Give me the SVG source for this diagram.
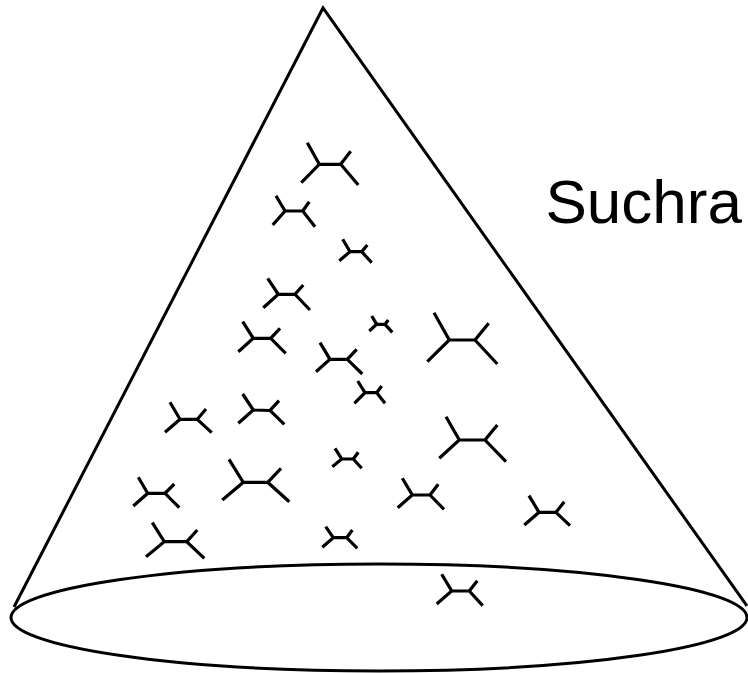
<svg xmlns="http://www.w3.org/2000/svg" width="748" height="673" viewBox="0 0 748 673">
<style>
.o{fill:none;stroke:#000;stroke-width:3}
.t{fill:none;stroke:#000;stroke-width:3.2;stroke-linejoin:miter}
.lbl{font-family:"Liberation Sans",Arial,sans-serif;font-size:62px;fill:#000}
</style>
<rect width="748" height="673" fill="#fff"/>
<g id="cone">
<path class="o" d="M14,607 L323,8 L747,606"/>
<ellipse class="o" cx="379" cy="617.5" rx="368" ry="53.5"/>
</g>
<g id="trees">
<g id="t1"><path class="t" d="M307.3,142.7 L319.3,164.3 L301.3,182.7 M319.3,164.3 L340.7,164.3 M350.7,151.3 L340.7,164.3 L358.3,185"/></g>
<g id="t2"><path class="t" d="M276,195.7 L285,211 L272.7,225 M285,211 L302.7,211 M309.3,201.7 L302.7,211 L315,226.7"/></g>
<g id="t3"><path class="t" d="M342.7,239.3 L350,251.7 L339.3,260.7 M350,251.7 L361.7,251.7 M367.3,245 L361.7,251.7 L371.7,262.7"/></g>
<g id="t4"><path class="t" d="M267.7,278.3 L278.3,294.3 L263.3,307.7 M278.3,294.3 L295,294.3 M303.3,285 L295,294.3 L310,310"/></g>
<g id="t5"><path class="t" d="M371.7,316 L376.7,324.3 L369.3,331 M376.7,324.3 L385,324.3 M388.3,320 L385,324.3 L392.3,332.3"/></g>
<g id="t6"><path class="t" d="M242.7,321.7 L253.3,338.3 L238.3,351.7 M253.3,338.3 L270.7,338.3 M280,328.3 L270.7,338.3 L285.7,353.3"/></g>
<g id="t7"><path class="t" d="M320,342.7 L330,359.3 L316,371.7 M330,359.3 L347.3,359.3 M356.7,349.3 L347.3,359.3 L362.3,374"/></g>
<g id="t8"><path class="t" d="M357.7,381 L365,392.7 L354.3,403.3 M365,392.7 L376.7,392.7 M381.7,386 L376.7,392.7 L385,403.3"/></g>
<g id="t9"><path class="t" d="M434,312.7 L449.3,340 L427.3,361.7 M449.3,340 L475,340 M488.7,323.3 L475,340 L497.3,364"/></g>
<g id="t10"><path class="t" d="M446,416.7 L459.3,440 L439.3,458.3 M459.3,440 L485,440 M497.3,425 L485,440 L506,461.7"/></g>
<g id="t11"><path class="t" d="M170,402.3 L180,419.3 L165,432.3 M180,419.3 L197.3,419.3 M206,409 L197.3,419.3 L211.7,432.7"/></g>
<g id="t12"><path class="t" d="M242.7,394 L253.3,410 L238.3,423.3 M253.3,410 L270,410.5 M279,400.7 L270,410.5 L284.3,424.3"/></g>
<g id="t13"><path class="t" d="M229,459.3 L243.3,482.3 L222.3,500 M243.3,482.3 L267.7,482.3 M281,468.3 L267.7,482.3 L289.3,501.7"/></g>
<g id="t14"><path class="t" d="M138.3,477.3 L147.7,493.3 L133.3,506 M147.7,493.3 L165,493.3 M174.3,484 L165,493.3 L179.3,507.7"/></g>
<g id="t15"><path class="t" d="M152.3,522.7 L164.3,541.7 L146,556.7 M164.3,541.7 L186.7,541.7 M197.3,530 L186.7,541.7 L204.3,558.3"/></g>
<g id="t16"><path class="t" d="M335,448.3 L341.7,459 L332.3,466.7 M341.7,459 L353.3,459 M358.3,452.3 L353.3,459 L361.7,468.3"/></g>
<g id="t17"><path class="t" d="M402.3,478.3 L412.3,495 L397.7,507.7 M412.3,495 L430,495 M438.3,484.3 L430,495 L444,509.3"/></g>
<g id="t18"><path class="t" d="M325.7,526.7 L333.3,537.7 L322.3,547.3 M333.3,537.7 L346.7,537.7 M352.3,530 L346.7,537.7 L357.3,548.3"/></g>
<g id="t19"><path class="t" d="M529,495.7 L539,512.3 L524.3,525 M539,512.3 L556,512.3 M564.3,501.7 L556,512.3 L570,525.7"/></g>
<g id="t20"><path class="t" d="M441.7,574.3 L451.7,591 L436.7,604 M451.7,591 L469.3,591 M477.3,580.7 L469.3,591 L482.7,605.7"/></g>
</g>
<g id="label"><text class="lbl" x="545.5" y="223">Suchra</text></g>
</svg>
